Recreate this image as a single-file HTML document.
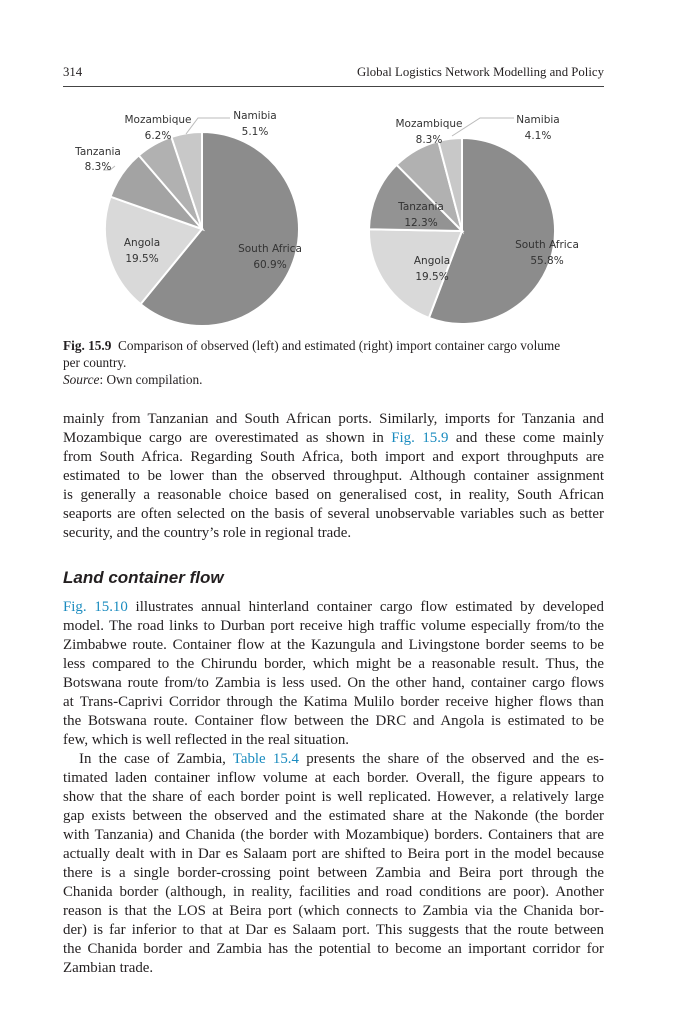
<!DOCTYPE html>
<html><head><meta charset="utf-8"><style>
html,body{margin:0;padding:0;background:#fff;}
body{width:682px;height:1024px;position:relative;overflow:hidden;font-family:"Liberation Serif",serif;color:#231f20;}
.l{position:absolute;left:63px;width:541px;font-size:14.9px;line-height:19px;white-space:nowrap;text-align:justify;text-align-last:justify;}
.l.last{text-align-last:left;}
.c{position:absolute;left:63px;font-size:13.3px;line-height:17px;white-space:nowrap;}
a{color:#1a8bbf;text-decoration:none;}
svg text{font-family:"DejaVu Sans","Liberation Sans",sans-serif;font-size:10.5px;fill:#333;}
</style></head><body>
<div style="position:absolute;left:63px;top:65px;font-size:12.8px;">314</div>
<div style="position:absolute;right:78px;top:65px;font-size:12.8px;">Global Logistics Network Modelling and Policy</div>
<div style="position:absolute;left:63px;top:86px;width:541px;height:1px;background:#444;"></div>

<svg width="682" height="340" style="position:absolute;left:0;top:0" stroke="#fff" stroke-width="2">
<path d="M202,229 L202,132 A97,97 0 1 1 140.6,304.1 Z" fill="#8c8c8c"/>
<path d="M202,229 L140.6,304.1 A97,97 0 0 1 110.5,196.7 Z" fill="#d9d9d9"/>
<path d="M202,229 L110.5,196.7 A97,97 0 0 1 138.8,155.4 Z" fill="#a3a3a3"/>
<path d="M202,229 L138.8,155.4 A97,97 0 0 1 171.4,136.9 Z" fill="#b1b1b1"/>
<path d="M202,229 L171.4,136.9 A97,97 0 0 1 202,132 Z" fill="#c8c8c8"/>
<path d="M462,231 L462,138 A93,93 0 1 1 428.9,317.9 Z" fill="#8c8c8c"/>
<path d="M462,231 L428.9,317.9 A93,93 0 0 1 369,229.3 Z" fill="#d9d9d9"/>
<path d="M462,231 L369,229.3 A93,93 0 0 1 396.6,164.8 Z" fill="#939393"/>
<path d="M462,231 L396.6,164.8 A93,93 0 0 1 438.3,141.1 Z" fill="#b1b1b1"/>
<path d="M462,231 L438.3,141.1 A93,93 0 0 1 462,138 Z" fill="#c8c8c8"/>
<g stroke="#bbb" stroke-width="1" fill="none">
<polyline points="186,134 198,118 230,118"/>
<polyline points="115,166 110,170 103,170"/>
<polyline points="452,136 480,118 514,118"/>
</g>
<g stroke="none" text-anchor="middle">
<text x="158" y="123">Mozambique</text><text x="158" y="139">6.2%</text>
<text x="255" y="119">Namibia</text><text x="255" y="135">5.1%</text>
<text x="98" y="155">Tanzania</text><text x="98" y="170">8.3%</text>
<text x="142" y="246">Angola</text><text x="142" y="262">19.5%</text>
<text x="270" y="252">South Africa</text><text x="270" y="268">60.9%</text>
<text x="429" y="127">Mozambique</text><text x="429" y="143">8.3%</text>
<text x="538" y="123">Namibia</text><text x="538" y="139">4.1%</text>
<text x="421" y="210">Tanzania</text><text x="421" y="226">12.3%</text>
<text x="432" y="264">Angola</text><text x="432" y="280">19.5%</text>
<text x="547" y="248">South Africa</text><text x="547" y="264">55.8%</text>
</g>
</svg>

<div class="c" style="top:337px"><b>Fig. 15.9</b>&nbsp; Comparison of observed (left) and estimated (right) import container cargo volume</div>
<div class="c" style="top:354px">per country.</div>
<div class="c" style="top:371px"><i>Source</i>: Own compilation.</div>

<div class="l" style="top:410px">mainly from Tanzanian and South African ports. Similarly, imports for Tanzania and</div>
<div class="l" style="top:429px">Mozambique cargo are overestimated as shown in <a>Fig. 15.9</a> and these come mainly</div>
<div class="l" style="top:448px">from South Africa. Regarding South Africa, both import and export throughputs are</div>
<div class="l" style="top:467px">estimated to be lower than the observed throughput. Although container assignment</div>
<div class="l" style="top:486px">is generally a reasonable choice based on generalised cost, in reality, South African</div>
<div class="l" style="top:505px">seaports are often selected on the basis of several unobservable variables such as better</div>
<div class="l last" style="top:524px">security, and the country’s role in regional trade.</div>

<div style="position:absolute;left:63px;top:568px;font-family:'Liberation Sans',sans-serif;font-weight:bold;font-style:italic;font-size:17px;">Land container flow</div>

<div class="l" style="top:598px"><a>Fig. 15.10</a> illustrates annual hinterland container cargo flow estimated by developed</div>
<div class="l" style="top:617px">model. The road links to Durban port receive high traffic volume especially from/to the</div>
<div class="l" style="top:636px">Zimbabwe route. Container flow at the Kazungula and Livingstone border seems to be</div>
<div class="l" style="top:655px">less compared to the Chirundu border, which might be a reasonable result. Thus, the</div>
<div class="l" style="top:674px">Botswana route from/to Zambia is less used. On the other hand, container cargo flows</div>
<div class="l" style="top:693px">at Trans-Caprivi Corridor through the Katima Mulilo border receive higher flows than</div>
<div class="l" style="top:712px">the Botswana route. Container flow between the DRC and Angola is estimated to be</div>
<div class="l last" style="top:731px">few, which is well reflected in the real situation.</div>
<div class="l" style="top:750px;left:79px;width:525px">In the case of Zambia, <a>Table 15.4</a> presents the share of the observed and the es-</div>
<div class="l" style="top:769px">timated laden container inflow volume at each border. Overall, the figure appears to</div>
<div class="l" style="top:788px">show that the share of each border point is well replicated. However, a relatively large</div>
<div class="l" style="top:807px">gap exists between the observed and the estimated share at the Nakonde (the border</div>
<div class="l" style="top:826px">with Tanzania) and Chanida (the border with Mozambique) borders. Containers that are</div>
<div class="l" style="top:845px">actually dealt with in Dar es Salaam port are shifted to Beira port in the model because</div>
<div class="l" style="top:864px">there is a single border-crossing point between Zambia and Beira port through the</div>
<div class="l" style="top:883px">Chanida border (although, in reality, facilities and road conditions are poor). Another</div>
<div class="l" style="top:902px">reason is that the LOS at Beira port (which connects to Zambia via the Chanida bor-</div>
<div class="l" style="top:921px">der) is far inferior to that at Dar es Salaam port. This suggests that the route between</div>
<div class="l" style="top:940px">the Chanida border and Zambia has the potential to become an important corridor for</div>
<div class="l last" style="top:959px">Zambian trade.</div>
</body></html>
